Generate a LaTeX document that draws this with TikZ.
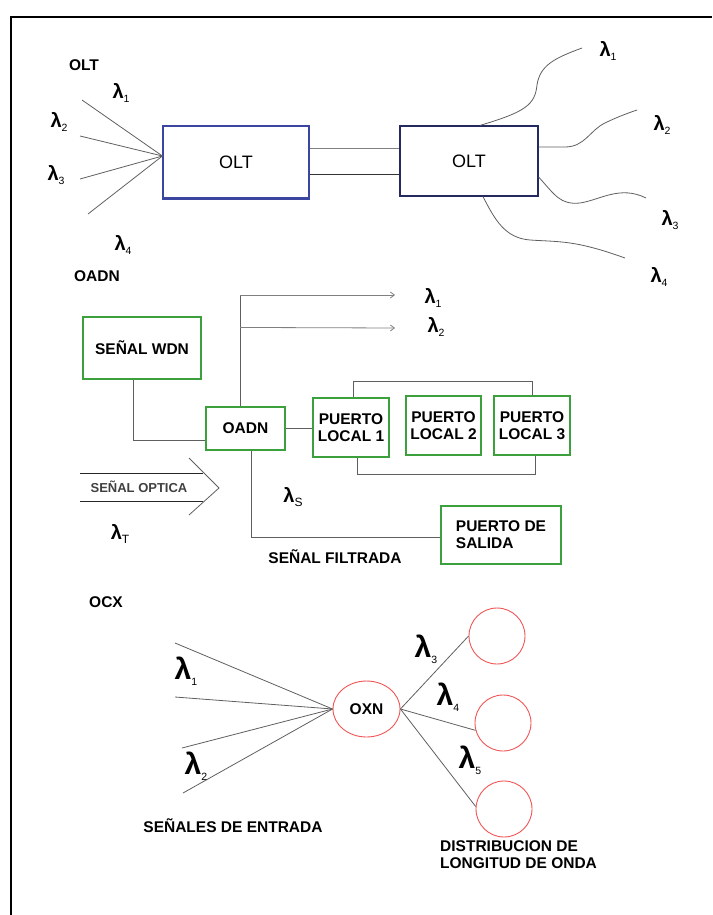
\documentclass[tikz,border=0pt]{standalone}
\usepackage{fontspec}
\setmainfont{Liberation Sans}
\usetikzlibrary{arrows.meta}
\usetikzlibrary{shapes.geometric}

\definecolor{oltblue}{RGB}{60,70,160}
\definecolor{boxgreen}{RGB}{60,160,60}
\definecolor{ringred}{RGB}{240,85,85}
\definecolor{wiregray}{RGB}{95,95,95}

% lambda with a small index
\newcommand{\wlen}[1]{λ\raisebox{-0.4ex}{\fontsize{10.5}{10.5}\selectfont\mdseries #1}}

\begin{document}
\begin{tikzpicture}[x=1pt, y=-1pt, >={Straight Barb[length=4pt,width=6pt]},
  font=\bfseries\fontsize{15.5}{17}\selectfont,
  wire/.style={draw=wiregray, line width=0.8pt},
  oltbox/.style={draw=oltblue, line width=1.2pt, inner sep=0, font=\mdseries\fontsize{18}{18}\selectfont},
  gbox/.style={draw=boxgreen, line width=1.1pt, inner sep=0, align=center},
  ring/.style={circle, draw=ringred, line width=0.9pt, minimum size=56pt, inner sep=0},
  lam/.style={inner sep=0, font=\bfseries\fontsize{20}{20}\selectfont},
  biglam/.style={inner sep=0, font=\bfseries\fontsize{30}{30}\selectfont},
  tag/.style={inner sep=0}]

  \useasboundingbox (0,0) rectangle (712,915);

  % ---------- Page frame ----------
  \draw[line width=2pt] (11,915) -- (11,17) -- (712,17);

  % ---------- OLT ----------
  \node[tag] (oltlbl) at (84,65) {OLT};
  \node[oltbox, minimum width=146pt, minimum height=72pt] (oltL) at (236,162) {OLT};
  \node[oltbox, draw=oltblue!60!black, minimum width=138pt, minimum height=70pt] (oltR) at (469,161) {OLT};
  \draw[oltblue, line width=1.8pt] (oltL.south west) -- (oltL.south east);

  \foreach \p in {(82,100),(80,136),(80,179),(88,214)}
    \draw[wire] \p -- ([yshift=6pt]oltL.west);

  \draw[wire, gray] ([yshift=14pt]oltL.east) -- ([yshift=14pt]oltL.east -| oltR.west);
  \draw[wire, black!80] ([yshift=-12pt]oltL.east) -- ([yshift=-12pt]oltL.east -| oltR.west);

  \node[lam] (lin1) at (121,93) {\wlen{1}};
  \node[lam] (lin2) at (59,122) {\wlen{2}};
  \node[lam] (lin3) at (56,175) {\wlen{3}};
  \node[lam] (lin4) at (123,245) {\wlen{4}};

  % wavy outputs
  \draw[wire] ([xshift=11pt]oltR.north) .. controls (525,112) and (535,105) .. (537,85)
    .. controls (540,65) and (555,58) .. (582,48);
  \draw[wire] ([yshift=14pt]oltR.east) -- (565,147) .. controls (585,147) and (590,130) .. (605,123)
    .. controls (615,118) and (628,113) .. (637,110);
  \draw[wire] ([yshift=-16pt]oltR.east) .. controls (555,195) and (560,205) .. (580,203)
    .. controls (600,200) and (620,185) .. (646,198);
  \draw[wire] ([xshift=14pt]oltR.south) .. controls (495,220) and (505,238) .. (530,240)
    .. controls (560,242) and (575,240) .. (625,258);

  \node[lam] (lout1) at (608,51) {\wlen{1}};
  \node[lam] (lout2) at (662,125) {\wlen{2}};
  \node[lam] (lout3) at (670,220) {\wlen{3}};
  \node[lam] (lout4) at (659,277) {\wlen{4}};

  % ---------- OADN ----------
  \node[tag] (oadnlbl) at (97,276) {OADN};
  \node[gbox, minimum width=118pt, minimum height=62pt] (wdn) at (142,348) {SEÑAL WDN};
  \node[gbox, minimum width=79pt, minimum height=43pt] (oadn) at (245.5,428.5) {OADN};
  \node[gbox, minimum width=76pt, minimum height=59pt] (pl1) at (351,427.5) {PUERTO\\LOCAL 1};
  \node[gbox, minimum width=75pt, minimum height=59pt] (pl2) at (443.5,425.5) {PUERTO\\LOCAL 2};
  \node[gbox, minimum width=76pt, minimum height=59pt] (pl3) at (532,425.5) {PUERTO\\LOCAL 3};
  \node[gbox, align=left, minimum width=120pt, minimum height=58pt] (salida) at (501,535) {PUERTO DE\\SALIDA};

  \coordinate (split) at (240,295);
  \coordinate (tip1) at (395,295);
  \coordinate (tip2) at (395,328);
  \draw[wire] (oadn.north -| split) -- (split);
  \draw[wire, ->, gray] (split) -- (tip1);
  \draw[wire, ->, gray] (oadn.north -| split) ++(0,-79) -- (tip2);
  \node[lam] (a1) at (433,298) {\wlen{1}};
  \node[lam] (a2) at (436,327) {\wlen{2}};

  \draw[wire] ([xshift=-9pt]wdn.south) |- ([yshift=-12pt]oadn.west);
  \draw[wire] (oadn.east) -- (pl1.west |- oadn.east);
  \draw[wire] ([xshift=2pt]pl1.north) -- ++(0,-16) -| (pl3.north);
  \draw[wire] ([xshift=6pt]pl1.south) -- ++(0,17) -| ([xshift=3pt]pl3.south);
  \draw[wire] ([xshift=5.5pt]oadn.south) |- ([yshift=-2pt]salida.west);

  \node[lam] (as) at (293,497) {\wlen{\fontsize{12}{12}\selectfont S}};
  \node[tag] (filtro) at (335,557) {SEÑAL FILTRADA};

  % optical input arrow
  \node[tag, font=\bfseries\fontsize{13}{13}\selectfont, black!75] (optica) at (139,487) {SEÑAL OPTICA};
  \draw[wire, black!85] (80,473) -- (203,473) (80,501) -- (203,501);
  \draw[wire] (189,458) -- (219,488) -- (189,515);
  \node[lam] (aT) at (120,534) {\wlen{\fontsize{12}{12}\selectfont T}};

  % ---------- OCX ----------
  \node[tag] (ocxlbl) at (106,602) {OCX};
  \node[ellipse, draw=ringred, line width=0.9pt, minimum width=67pt, minimum height=56pt, inner sep=0] (oxn) at (366.5,709) {OXN};
  \node[ring] (out1) at (497,636) {};
  \node[ring] (out2) at (503,723) {};
  \node[ring] (out3) at (504,809) {};

  \foreach \p in {(175,643),(175,697),(182,748),(183,793)}
    \draw[wire] \p -- (oxn.west);
  \draw[wire] (oxn.east) -- (out1.west);
  \draw[wire] (oxn.east) -- (out2.195);
  \draw[wire] (oxn.east) -- (out3.175);

  \node[biglam] (c1) at (186,671) {\wlen{1}};
  \node[biglam] (c2) at (196,766) {\wlen{2}};
  \node[biglam] (c3) at (426,649) {\wlen{3}};
  \node[biglam] (c4) at (448,697) {\wlen{4}};
  \node[biglam] (c5) at (470,760) {\wlen{5}};

  \node[tag] (entrada) at (233,826) {SEÑALES DE ENTRADA};
  \node[tag, align=left, anchor=north west] (dist) at (440,840) {DISTRIBUCION DE\\LONGITUD DE ONDA};

\end{tikzpicture}
\end{document}
